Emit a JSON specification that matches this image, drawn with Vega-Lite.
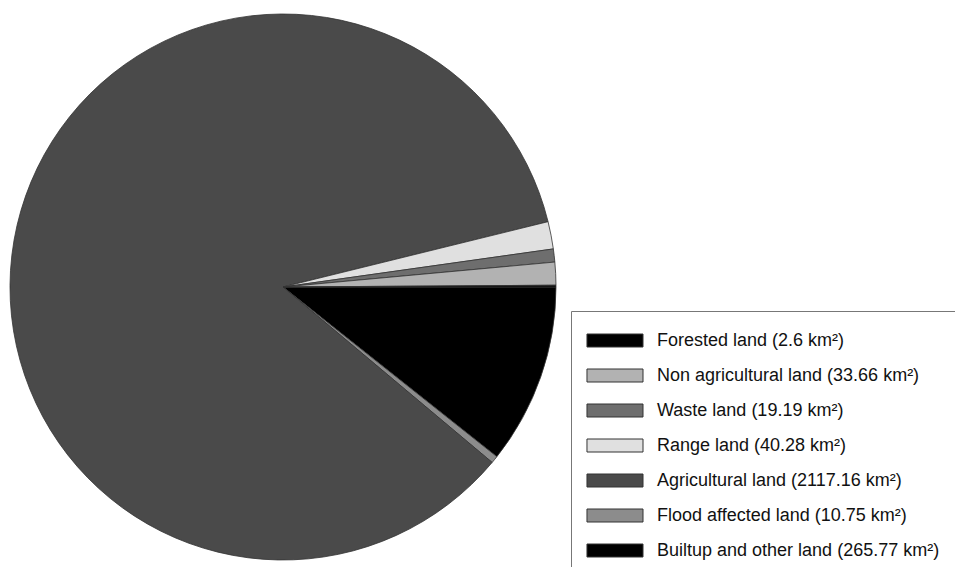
{
  "$schema": "https://vega.github.io/schema/vega-lite/v6.json",
  "width": 566,
  "height": 574,
  "padding": 0,
  "background": "white",
  "config": {"view": {"stroke": null}},
  "data": {
    "values": [
      {"land": "Builtup and other land (265.77 km²)", "area": 265.77, "idx": 1},
      {"land": "Flood affected land (10.75 km²)", "area": 10.75, "idx": 2},
      {"land": "Agricultural land (2117.16 km²)", "area": 2117.16, "idx": 3},
      {"land": "Range land (40.28 km²)", "area": 40.28, "idx": 4},
      {"land": "Waste land (19.19 km²)", "area": 19.19, "idx": 5},
      {"land": "Non agricultural land (33.66 km²)", "area": 33.66, "idx": 6},
      {"land": "Forested land (2.6 km²)", "area": 2.6, "idx": 7}
    ]
  },
  "mark": {"type": "arc", "radius": 273, "stroke": "#333333", "strokeWidth": 0.8},
  "encoding": {
    "theta": {"field": "area", "type": "quantitative", "stack": true, "scale": {"range": [1.5708, 7.854]}},
    "order": {"field": "idx", "type": "quantitative", "sort": "ascending"},
    "color": {
      "field": "land",
      "type": "nominal",
      "scale": {
        "domain": [
          "Forested land (2.6 km²)",
          "Non agricultural land (33.66 km²)",
          "Waste land (19.19 km²)",
          "Range land (40.28 km²)",
          "Agricultural land (2117.16 km²)",
          "Flood affected land (10.75 km²)",
          "Builtup and other land (265.77 km²)"
        ],
        "range": ["#000000", "#b2b2b2", "#6e6e6e", "#e0e0e0", "#4a4a4a", "#8c8c8c", "#000000"]
      },
      "legend": {
        "title": null,
        "orient": "none",
        "legendX": 571,
        "legendY": 311,
        "padding": 16,
        "strokeColor": "#777777",
        "fillColor": "white",
        "symbolType": "M-1.04,-0.5H3.27V0.5H-1.04Z",
        "symbolSize": 676,
        "symbolStrokeColor": "#333333",
        "symbolStrokeWidth": 1,
        "symbolOpacity": 1,
        "labelFont": "Liberation Sans",
        "labelFontSize": 18,
        "labelColor": "#111111",
        "labelOffset": 43,
        "labelLimit": 400,
        "rowPadding": 12
      }
    }
  }
}
